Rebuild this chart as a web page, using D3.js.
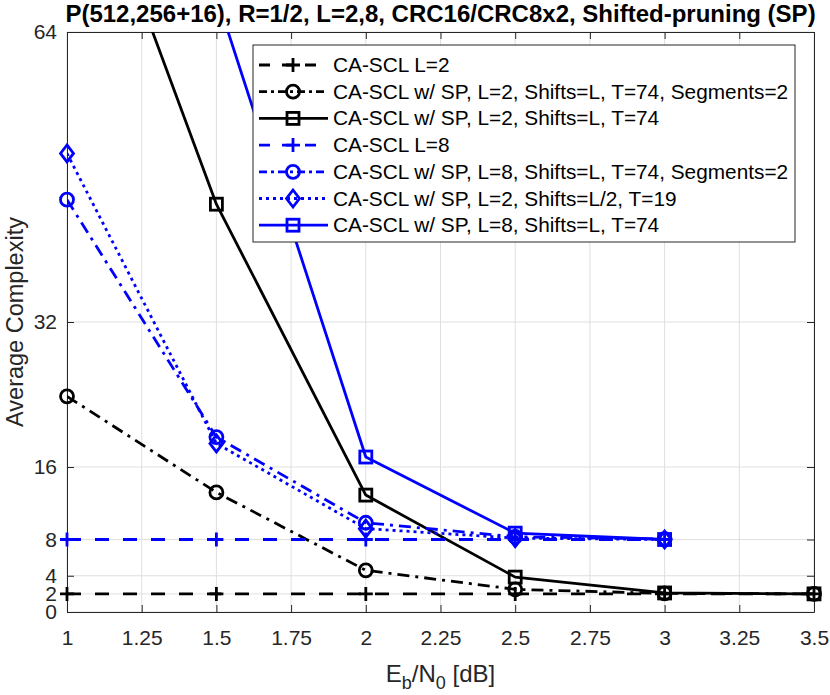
<!DOCTYPE html>
<html><head><meta charset="utf-8">
<script src="https://cdn.jsdelivr.net/npm/d3@7"></script>
<style>body{margin:0;background:#fff;} svg{display:block;font-family:"Liberation Sans",Arial,sans-serif;}</style>
</head><body>
<script>
const xs = [1, 1.5, 2, 2.5, 3, 3.5];
const xs8 = [1, 1.5, 2, 2.5, 3];
const sclL2 = [2, 2, 2, 2, 2, 2];
const spL2seg = [23.8, 13.2, 4.6, 2.5, 2.05, 2.0];
const spL2 = [89.5, 45.0, 12.9, 3.85, 2.1, 2.0];
const sclL8 = [8, 8, 8, 8, 8];
const spL8seg = [45.5, 19.3, 9.85, 8.3, 8.05];
const spL2half = [50.6, 18.6, 9.2, 8.15, 8.0];
const spL8 = [140, 68, 17.1, 8.7, 8.0];
const xTicks = [1, 1.25, 1.5, 1.75, 2, 2.25, 2.5, 2.75, 3, 3.25, 3.5];
const yTicks = [0, 2, 4, 8, 16, 32, 64];
const titleText = "P(512,256+16), R=1/2, L=2,8, CRC16/CRC8x2, Shifted-pruning (SP)";

const series = [
  {name:"CA-SCL L=2", x:xs, y:sclL2, color:"#000", dash:"14,14", marker:"plus"},
  {name:"CA-SCL w/ SP, L=2, Shifts=L, T=74, Segments=2", x:xs, y:spL2seg, color:"#000", dash:"12,6,3,6", marker:"circle"},
  {name:"CA-SCL w/ SP, L=2, Shifts=L, T=74", x:xs, y:spL2, color:"#000", dash:null, marker:"square"},
  {name:"CA-SCL L=8", x:xs8, y:sclL8, color:"#0000ff", dash:"14,14", marker:"plus"},
  {name:"CA-SCL w/ SP, L=8, Shifts=L, T=74, Segments=2", x:xs8, y:spL8seg, color:"#0000ff", dash:"12,6,3,6", marker:"circle"},
  {name:"CA-SCL w/ SP, L=2, Shifts=L/2, T=19", x:xs8, y:spL2half, color:"#0000ff", dash:"3,4", marker:"diamond"},
  {name:"CA-SCL w/ SP, L=8, Shifts=L, T=74", x:xs8, y:spL8, color:"#0000ff", dash:null, marker:"square"}
];

const W = 830, H = 695;
const m = {l:67, t:32, r:16, b:83};
const pw = W - m.l - m.r, ph = H - m.t - m.b;
const LW = 2.8;
const svg = d3.select("body").append("svg").attr("width", W).attr("height", H);
const x = d3.scaleLinear().domain([1, 3.5]).range([m.l, m.l + pw]);
const y = d3.scaleLinear().domain([0, 64]).range([m.t + ph, m.t]);

svg.append("defs").append("clipPath").attr("id","clip")
  .append("rect").attr("x", m.l).attr("y", m.t).attr("width", pw).attr("height", ph);

svg.append("rect").attr("x", m.l).attr("y", m.t).attr("width", pw).attr("height", ph).attr("fill", "#fff");

// grid
const g = svg.append("g");
g.selectAll(".gx").data(xTicks).join("line")
  .attr("x1", d => x(d)).attr("x2", d => x(d)).attr("y1", m.t).attr("y2", m.t + ph)
  .attr("stroke", "#dfdfdf").attr("stroke-width", 1);
g.selectAll(".gy").data(yTicks).join("line")
  .attr("y1", d => y(d)).attr("y2", d => y(d)).attr("x1", m.l).attr("x2", m.l + pw)
  .attr("stroke", "#dfdfdf").attr("stroke-width", 1);

// axes
const tickLen = 7;
const axB = d3.axisBottom(x).tickValues(xTicks).tickFormat(d => String(d)).tickSizeInner(-tickLen).tickSizeOuter(0).tickPadding(18);
const axL = d3.axisLeft(y).tickValues(yTicks).tickFormat(d => String(d)).tickSizeInner(-tickLen).tickSizeOuter(0).tickPadding(10);
const axT = d3.axisTop(x).tickValues(xTicks).tickFormat("").tickSizeInner(-tickLen).tickSizeOuter(0);
const axR = d3.axisRight(y).tickValues(yTicks).tickFormat("").tickSizeInner(-tickLen).tickSizeOuter(0);
function styleAx(sel){
  sel.selectAll("path").attr("stroke", "#262626").attr("stroke-width", 1);
  sel.selectAll("line").attr("stroke", "#262626").attr("stroke-width", 1);
  sel.selectAll("text").attr("fill", "#262626").style("font-size", "21px").style("font-family", '"Liberation Sans",Arial,sans-serif');
}
svg.append("g").attr("transform", `translate(0,${m.t + ph})`).call(axB).call(styleAx);
svg.append("g").attr("transform", `translate(${m.l},0)`).call(axL).call(styleAx);
svg.append("g").attr("transform", `translate(0,${m.t})`).call(axT).call(styleAx);
svg.append("g").attr("transform", `translate(${m.l + pw},0)`).call(axR).call(styleAx);

// series
const line = d3.line().x(d => x(d[0])).y(d => y(d[1]));
const plot = svg.append("g");
function drawMarker(sel, type, cx, cy, color){
  const s = 7;
  if (type === "plus") {
    sel.append("path").attr("d", `M${cx - s},${cy}H${cx + s}M${cx},${cy - s}V${cy + s}`)
      .attr("stroke", color).attr("stroke-width", LW).attr("fill", "none");
  } else if (type === "circle") {
    sel.append("circle").attr("cx", cx).attr("cy", cy).attr("r", 6.5)
      .attr("stroke", color).attr("stroke-width", LW).attr("fill", "none");
  } else if (type === "square") {
    sel.append("rect").attr("x", cx - 6).attr("y", cy - 6).attr("width", 12).attr("height", 12)
      .attr("stroke", color).attr("stroke-width", LW).attr("fill", "none");
  } else if (type === "diamond") {
    sel.append("path").attr("d", `M${cx},${cy - 8.5}L${cx + 6.5},${cy}L${cx},${cy + 8.5}L${cx - 6.5},${cy}Z`)
      .attr("stroke", color).attr("stroke-width", LW).attr("fill", "none");
  }
}
series.forEach(s => {
  const pts = s.x.map((v, i) => [v, s.y[i]]);
  plot.append("path").datum(pts).attr("d", line).attr("clip-path", "url(#clip)")
    .attr("fill", "none").attr("stroke", s.color).attr("stroke-width", LW)
    .attr("stroke-dasharray", s.dash).attr("stroke-linejoin", "round");
  pts.filter(p => p[1] <= 64).forEach(p => drawMarker(plot, s.marker, x(p[0]), y(p[1]), s.color));
});

// legend
const lg = svg.append("g");
const lx = 253, ly = 45, lw = 542, rowH = 26.7;
lg.append("rect").attr("x", lx).attr("y", ly).attr("width", lw).attr("height", 197)
  .attr("fill", "#fff").attr("stroke", "#262626").attr("stroke-width", 1);
series.forEach((s, i) => {
  const cy = ly + 20 + i * rowH;
  lg.append("line").attr("x1", lx + 6).attr("x2", lx + 75).attr("y1", cy).attr("y2", cy)
    .attr("stroke", s.color).attr("stroke-width", LW).attr("stroke-dasharray", s.dash ? (s.dash === "14,14" ? "11,12" : s.dash === "12,6,3,6" ? "8,4,3,4" : s.dash) : null);
  drawMarker(lg, s.marker, lx + 40, cy, s.color);
  lg.append("text").attr("x", lx + 80).attr("y", cy + 7).text(s.name)
    .style("font-size", "20.8px").attr("fill", "#000");
});

// title
svg.append("text").attr("x", m.l + pw / 2).attr("y", 22).attr("text-anchor", "middle")
  .style("font-size", "24px").style("font-weight", "bold").attr("fill", "#000").text(titleText);

// axis labels
const xl = svg.append("text").attr("x", m.l + pw / 2).attr("y", 682).attr("text-anchor", "middle")
  .style("font-size", "24px").attr("fill", "#262626");
xl.append("tspan").text("E");
xl.append("tspan").text("b").attr("dy", 7).style("font-size", "18px");
xl.append("tspan").text("/N").attr("dy", -7);
xl.append("tspan").text("0").attr("dy", 7).style("font-size", "18px");
xl.append("tspan").text(" [dB]").attr("dy", -7);

svg.append("text").attr("transform", `translate(23,${m.t + ph / 2}) rotate(-90)`).attr("text-anchor", "middle")
  .style("font-size", "23.5px").attr("fill", "#262626").text("Average Complexity");
</script>
</body></html>
